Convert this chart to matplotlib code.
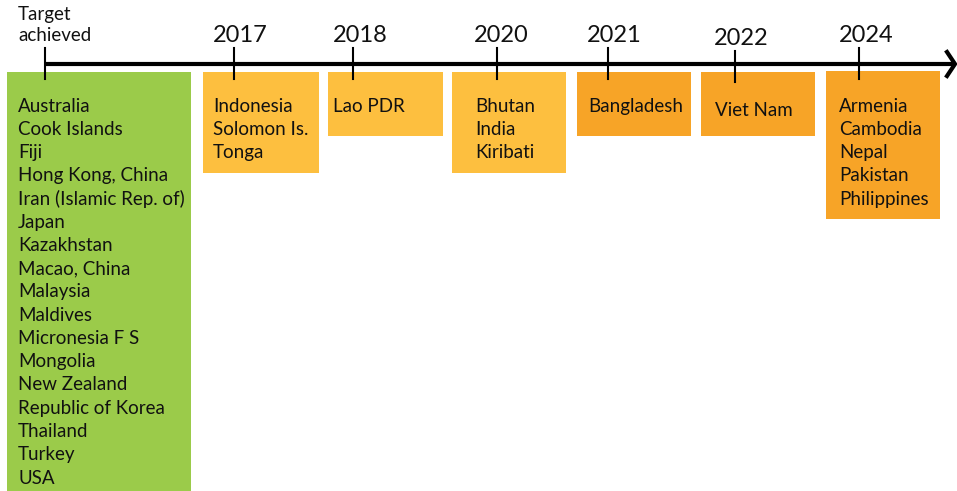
import matplotlib
matplotlib.use("Agg")
import matplotlib.pyplot as plt
from matplotlib.patches import Rectangle

# ---- data ----
stage_labels = ["Target\nachieved", "2017", "2018", "2020", "2021", "2022", "2024"]
achieved = ["Australia", "Cook Islands", "Fiji", "Hong Kong, China",
            "Iran (Islamic Rep. of)", "Japan", "Kazakhstan", "Macao, China",
            "Malaysia", "Maldives", "Micronesia F S", "Mongolia", "New Zealand",
            "Republic of Korea", "Thailand", "Turkey", "USA"]
y2017 = ["Indonesia", "Solomon Is.", "Tonga"]
y2018 = ["Lao PDR"]
y2020 = ["Bhutan", "India", "Kiribati"]
y2021 = ["Bangladesh"]
y2022 = ["Viet Nam"]
y2024 = ["Armenia", "Cambodia", "Nepal", "Pakistan", "Philippines"]
groups = [achieved, y2017, y2018, y2020, y2021, y2022, y2024]

# ---- layout (pixels) ----
GREEN = "#9BCB4A"
LIGHT = "#FDBF3F"
DARK = "#F7A427"
colors = [GREEN, LIGHT, LIGHT, LIGHT, DARK, DARK, DARK]
box_x0 = [7, 203, 328, 452, 577, 701, 826]
box_x1 = [191, 319, 443, 566, 691, 815, 940]
box_y0 = [72, 72, 72, 72, 72, 72, 71]
box_y1 = [491, 173, 136, 173, 136, 136, 219]
tick_x = [45, 234, 353, 497, 608, 735, 859]
tick_y0 = [48, 48, 48, 48, 48, 51, 48]
tick_y1 = [79, 79, 79, 79, 79, 82, 79]
label_x = [18, 240, 360, 501, 614, 741, 866]
label_y = [25, 35, 35, 35, 35, 38, 35]
text_x = [18, 213, 333, 475, 588, 715, 839]
text_y0 = [106, 106, 106, 106, 106, 110, 106]
line_h = 23.25

FONT = ["Lato", "DejaVu Sans"]

fig = plt.figure(figsize=(9.57, 4.91), dpi=100)
ax = fig.add_axes([0, 0, 1, 1])
ax.set_xlim(0, 957)
ax.set_ylim(491, 0)
ax.axis("off")

for i, names in enumerate(groups):
    ax.add_patch(Rectangle((box_x0[i], box_y0[i]), box_x1[i] - box_x0[i],
                           box_y1[i] - box_y0[i], facecolor=colors[i],
                           edgecolor="none", zorder=1))
    for j, n in enumerate(names):
        ax.text(text_x[i], text_y0[i] + j * line_h, n, fontsize=13.5,
                family=FONT, color="#111111", va="center", ha="left", zorder=3)

# timeline
ax.plot([45, 954], [64, 64], color="black", lw=3, solid_capstyle="butt", zorder=2)
ax.plot([947, 955, 947], [52, 64, 76], color="black", lw=3,
        solid_joinstyle="miter", zorder=2)

for i, lab in enumerate(stage_labels):
    ax.plot([tick_x[i], tick_x[i]], [tick_y0[i], tick_y1[i]], color="black",
            lw=1.5, zorder=2)
    if i == 0:
        ax.text(label_x[i], label_y[i], lab, fontsize=13.5, family=FONT,
                color="#111111", va="center", ha="left", linespacing=1.3)
    else:
        ax.text(label_x[i], label_y[i], lab, fontsize=17, family=FONT,
                color="#111111", va="center", ha="center")

fig.savefig("out.png", dpi=100)
